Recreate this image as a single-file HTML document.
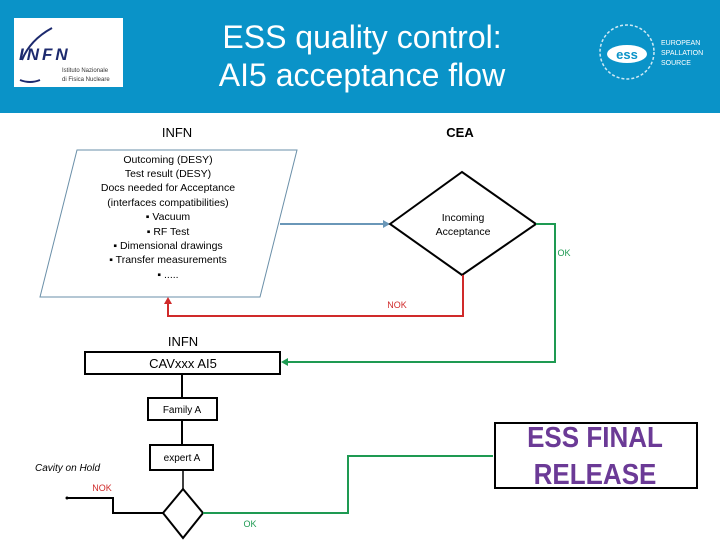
<!DOCTYPE html>
<html><head><style>
body{margin:0;width:720px;height:540px;background:#fff;overflow:hidden;font-family:"Liberation Sans",sans-serif;}
</style></head><body>
<svg width="720" height="540" xmlns="http://www.w3.org/2000/svg" font-family="Liberation Sans, sans-serif">
<rect x="0" y="0" width="720" height="113" fill="#0a93c8"/>
<rect x="14" y="18" width="109" height="69" fill="#fff"/>
<path d="M52 28 Q30 40 22 60 M20 80 Q30 84 40 80" stroke="#1d2a6e" stroke-width="2" fill="none"/>
<text x="19" y="60" font-size="17" font-weight="bold" font-style="italic" fill="#1d2a6e" letter-spacing="3">INFN</text>
<text x="62" y="72" font-size="6" fill="#333">Istituto Nazionale</text>
<text x="62" y="81" font-size="6" fill="#333">di Fisica Nucleare</text>
<text x="362" y="48" font-size="32" fill="#fff" text-anchor="middle">ESS quality control:</text>
<text x="362" y="86" font-size="32" fill="#fff" text-anchor="middle">AI5 acceptance flow</text>
<circle cx="627" cy="52" r="27" fill="none" stroke="#cfe9f5" stroke-width="1.5" stroke-dasharray="3 2"/>
<ellipse cx="627" cy="54" rx="20" ry="9" fill="#fff"/>
<text x="627" y="59" font-size="13" font-weight="bold" fill="#0a93c8" text-anchor="middle">ess</text>
<text x="661" y="45" font-size="7" fill="#fff">EUROPEAN</text>
<text x="661" y="55" font-size="7" fill="#fff">SPALLATION</text>
<text x="661" y="65" font-size="7" fill="#fff">SOURCE</text>

<text x="177" y="137" font-size="13" text-anchor="middle" fill="#000">INFN</text>
<text x="460" y="137" font-size="13" font-weight="bold" text-anchor="middle" fill="#000">CEA</text>

<polygon points="77,150 297,150 260,297 40,297" fill="#fff" stroke="#6a8fa8" stroke-width="1"/>
<g font-size="10.5" text-anchor="middle" fill="#000">
<text x="168" y="163">Outcoming (DESY)</text>
<text x="168" y="177">Test result (DESY)</text>
<text x="168" y="191">Docs needed for Acceptance</text>
<text x="168" y="206">(interfaces compatibilities)</text>
<text x="168" y="220">▪  Vacuum</text>
<text x="168" y="235">▪  RF Test</text>
<text x="168" y="249">▪  Dimensional drawings</text>
<text x="168" y="263">▪  Transfer measurements</text>
<text x="168" y="278">▪  .....</text>
</g>
<line x1="280" y1="224" x2="386" y2="224" stroke="#6a97b8" stroke-width="2"/>
<polygon points="390,224 383,220 383,228" fill="#6a97b8"/>
<polygon points="390,224 462,172 536,224 462,275" fill="#fff" stroke="#000" stroke-width="2"/>
<text x="463" y="221" font-size="10.5" text-anchor="middle">Incoming</text>
<text x="463" y="235" font-size="10.5" text-anchor="middle">Acceptance</text>

<polyline points="536,224 555,224 555,362 285,362" fill="none" stroke="#1e9a52" stroke-width="2"/>
<polygon points="281,362 288,358 288,366" fill="#1e9a52"/>
<text x="564" y="256" font-size="9" fill="#1e9a52" text-anchor="middle">OK</text>

<polyline points="463,275 463,316 168,316 168,302" fill="none" stroke="#d02a2a" stroke-width="2"/>
<polygon points="168,297 164,304 172,304" fill="#d02a2a"/>
<text x="397" y="308" font-size="9" fill="#d02a2a" text-anchor="middle">NOK</text>

<text x="183" y="346" font-size="13" text-anchor="middle">INFN</text>
<rect x="85" y="352" width="195" height="22" fill="#fff" stroke="#000" stroke-width="2"/>
<text x="183" y="368" font-size="13" text-anchor="middle">CAVxxx AI5</text>

<line x1="182" y1="374" x2="182" y2="398" stroke="#000" stroke-width="2"/>
<rect x="148" y="398" width="69" height="22" fill="#fff" stroke="#000" stroke-width="2"/>
<text x="182" y="413" font-size="10" text-anchor="middle">Family A</text>
<line x1="182" y1="420" x2="182" y2="445" stroke="#000" stroke-width="2"/>
<rect x="150" y="445" width="63" height="25" fill="#fff" stroke="#000" stroke-width="2"/>
<text x="182" y="461" font-size="10" text-anchor="middle">expert A</text>
<line x1="183" y1="470" x2="183" y2="489" stroke="#000" stroke-width="1.5"/>
<polygon points="183,489 203,513 183,538 163,513" fill="#fff" stroke="#000" stroke-width="2"/>
<polyline points="163,513 113,513 113,498 67,498" fill="none" stroke="#000" stroke-width="2"/>
<circle cx="67" cy="498" r="1.5"/>
<text x="102" y="491" font-size="9" fill="#d02a2a" text-anchor="middle">NOK</text>
<text x="35" y="471" font-size="10" font-style="italic">Cavity on Hold</text>
<polyline points="203,513 348,513 348,456 493,456" fill="none" stroke="#1e9a52" stroke-width="2"/>
<text x="250" y="527" font-size="9" fill="#1e9a52" text-anchor="middle">OK</text>
<rect x="495" y="423" width="202" height="65" fill="#fff" stroke="#000" stroke-width="2"/>
<text x="595" y="447" font-size="26" font-weight="bold" fill="#6b3a96" text-anchor="middle" transform="scale(1,1.1)" transform-origin="595 447">ESS FINAL</text>
<text x="595" y="484" font-size="26" font-weight="bold" fill="#6b3a96" text-anchor="middle" transform="scale(1,1.1)" transform-origin="595 484">RELEASE</text>
</svg>
</body></html>
